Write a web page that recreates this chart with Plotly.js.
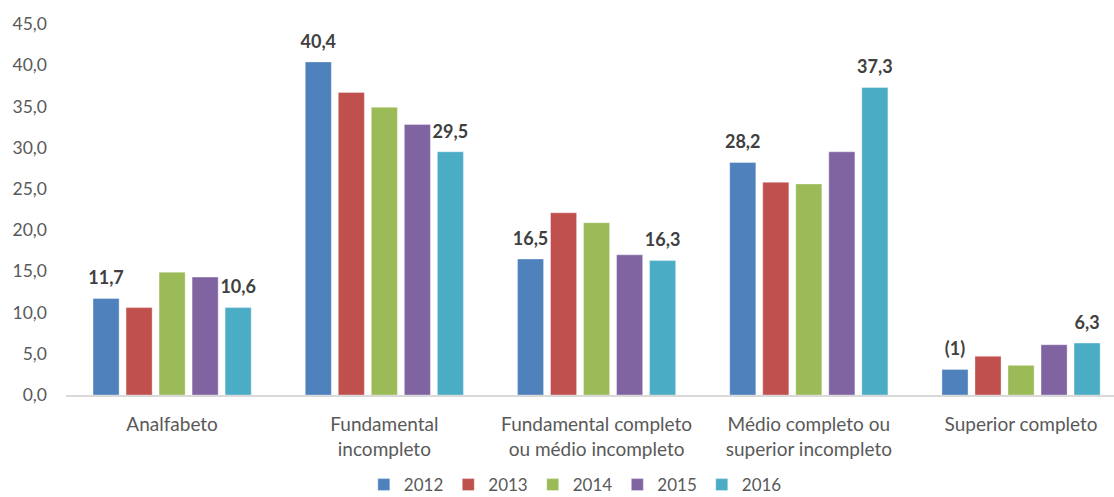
<!DOCTYPE html>
<html>
<head>
<meta charset="utf-8">
<script src="https://cdn.plot.ly/plotly-3.0.1.min.js"></script>
<style>html,body{margin:0;padding:0;background:#fff;}#chart{width:1114px;height:497px;}</style>
</head>
<body>
<div id="chart"></div>
<script>
var categories = ["Analfabeto", "Fundamental<br>incompleto", "Fundamental completo<br>ou médio incompleto", "Médio completo ou<br>superior incompleto", "Superior completo"];
var years = ["2012", "2013", "2014", "2015", "2016"];
var v2012 = [11.7, 40.4, 16.5, 28.2, 3.1];
var v2013 = [10.6, 36.7, 22.1, 25.8, 4.7];
var v2014 = [14.9, 34.9, 20.9, 25.6, 3.6];
var v2015 = [14.3, 32.8, 17.0, 29.5, 6.1];
var v2016 = [10.6, 29.5, 16.3, 37.3, 6.3];
var labels2012 = ["11,7", "40,4", "16,5", "28,2", "(1)"];
var labels2016 = ["10,6", "29,5", "16,3", "37,3", "6,3"];
var colors = ["#4F81BD", "#C0504D", "#9BBB59", "#8064A2", "#4BACC6"];

var series = [v2012, v2013, v2014, v2015, v2016];
var seriesLabels = [labels2012, null, null, null, labels2016];
var FONT = "Lato, 'Open Sans', sans-serif";
var GAP = 0.222;
var traces = series.map(function (vals, i) {
  return {
    type: "bar",
    name: years[i],
    x: categories,
    y: vals,
    offsetgroup: "g" + i,
    marker: {color: colors[i], line: {width: 1, color: "rgba(255,255,255,0.35)"}},
    hoverinfo: "none"
  };
});
// label layer: grouped scatter points sitting on the bar tops
series.forEach(function (vals, i) {
  traces.push({
    type: "scatter",
    mode: "markers+text",
    x: categories,
    y: vals,
    offsetgroup: "g" + i,
    showlegend: false,
    hoverinfo: "none",
    cliponaxis: false,
    marker: {size: 14, color: "rgba(0,0,0,0)"},
    text: seriesLabels[i] || vals.map(function () { return ""; }),
    texttemplate: "<b>%{text}</b>",
    textposition: "top center",
    textfont: {family: FONT, size: 18, color: "#404040"}
  });
});

var layout = {
  width: 1114, height: 497,
  margin: {l: 66, r: 0, t: 24, b: 102, autoexpand: false},
  paper_bgcolor: "#fff", plot_bgcolor: "#fff",
  font: {family: FONT, color: "#595959", size: 17},
  barmode: "group",
  bargap: GAP,
  bargroupgap: 0.21,
  scattermode: "group",
  scattergap: GAP,
  showlegend: true,
  legend: {orientation: "h", x: 0.486, xanchor: "center", yref: "container", y: 0.024, yanchor: "middle",
           font: {size: 17, color: "#595959"}, itemwidth: 30},
  xaxis: {range: [-0.5, 4.438], showline: true, linecolor: "#D9D9D9", linewidth: 1.5,
          ticks: "", showgrid: false, zeroline: false, fixedrange: true, automargin: false,
          ticklabelstandoff: 12,
          tickfont: {size: 19, color: "#595959"}},
  yaxis: {range: [0, 45], dtick: 5, tick0: 0, tickformat: ".1f", showgrid: false,
          zeroline: false, showline: false, ticks: "", ticklabelstandoff: 18, automargin: false,
          tickfont: {size: 17.5, color: "#595959"}, fixedrange: true},
  separators: ",."
};

Plotly.newPlot("chart", traces, layout, {displayModeBar: false, staticPlot: true});
</script>
</body>
</html>
